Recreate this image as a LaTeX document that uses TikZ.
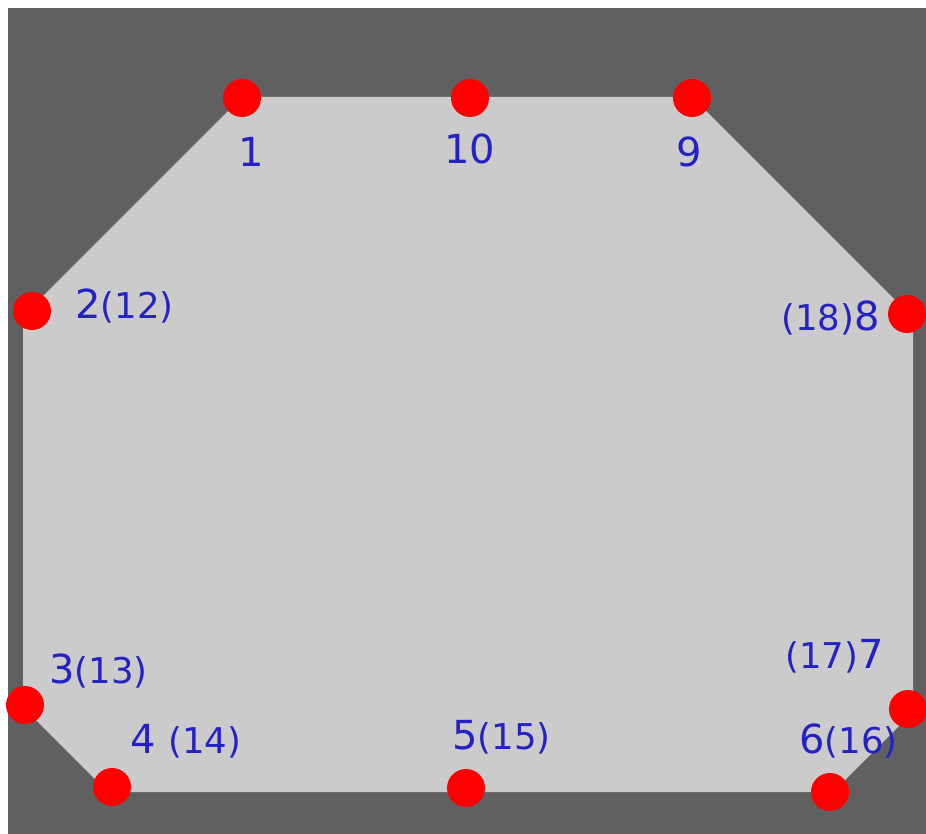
\documentclass[tikz,border=0pt]{standalone}
\usepackage{fontspec}
\setmainfont{DejaVu Sans}
\definecolor{bgdark}{RGB}{96,96,96}
\definecolor{bglight}{RGB}{203,203,203}
\definecolor{lblue}{RGB}{35,35,195}
\definecolor{dotred}{RGB}{255,0,0}
\tikzset{
  pt/.style={circle,fill=dotred,minimum size=38pt,inner sep=0pt},
  lbl/.style={text=lblue,inner sep=0pt,font=\fontsize{40}{40}\selectfont},
}
\newcommand{\sm}[1]{{\fontsize{35.5}{36}\selectfont #1}}
\begin{document}
\begin{tikzpicture}[x=1pt,y=-1pt]
\useasboundingbox (0,0) rectangle (926,834);
\fill[white] (0,0) rectangle (926,834);
\fill[bgdark] (8,8) rectangle (926,834);
\fill[bglight] (242,97) -- (692,97) -- (913,318) -- (913,712) -- (833,792) -- (108,792) -- (23,707) -- (23,316) -- cycle;
\node[pt] (p1) at (242,98) {};
\node[pt] (p10) at (470,98) {};
\node[pt] (p9) at (692,98) {};
\node[pt] (p2) at (32,311) {};
\node[pt] (p8) at (907,314) {};
\node[pt] (p3) at (25,705) {};
\node[pt] (p4) at (112,787) {};
\node[pt] (p5) at (466,788) {};
\node[pt] (p6) at (830,792) {};
\node[pt] (p7) at (908,709) {};
\node[lbl,anchor=base] (l1) at (251,167) {1};
\node[lbl,anchor=base] (l10) at (470,164) {10};
\node[lbl,anchor=base] (l9) at (689,167) {9};
\node[lbl,anchor=base west] (l2) at (75,318) {2\sm{(12)}};
\node[lbl,anchor=base east] (l8) at (880,330) {\sm{(18)}8};
\node[lbl,anchor=base west] (l3) at (49,683) {3\sm{(13)}};
\node[lbl,anchor=base west] (l4) at (130,753) {4 \sm{(14)}};
\node[lbl,anchor=base west] (l5) at (452,749) {5\sm{(15)}};
\node[lbl,anchor=base east] (l7) at (884,668) {\sm{(17)}7};
\node[lbl,anchor=base west] (l6) at (799,753) {6\sm{(16)}};
\end{tikzpicture}
\end{document}
